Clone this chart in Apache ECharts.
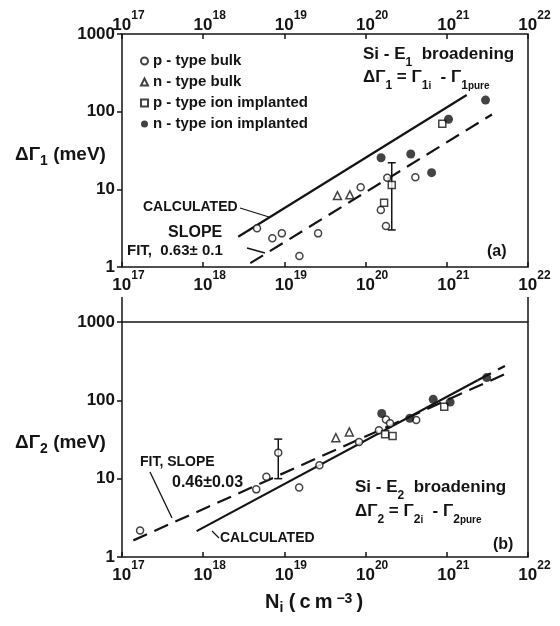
<!DOCTYPE html>
<html>
<head>
<meta charset="utf-8">
<script src="https://cdn.jsdelivr.net/npm/echarts@6/dist/echarts.min.js"></script>
<style>
  html, body { margin: 0; padding: 0; background: #fff; }
  #chart { width: 560px; height: 626px; }
</style>
</head>
<body>
<div id="chart"></div>
<script>
// ---- axis ticks ----
const xTickExps = [17, 18, 19, 20, 21, 22];
const yTicks = [1, 10, 100, 1000];

// ---- panel (a): Si-E1 broadening ----
const e1PBulkN = [4.6e18, 7.1e18, 9.3e18, 1.53e19, 2.6e19, 8.7e19, 1.54e20, 1.85e20, 1.78e20, 4.1e20];
const e1PBulkG = [3.15, 2.34, 2.71, 1.39, 2.71, 10.6, 5.4, 14.1, 3.37, 14.3];
const e1NBulkN = [4.5e19, 6.4e19];
const e1NBulkG = [8.3, 8.5];
const e1PImplN = [1.69e20, 2.1e20, 8.8e20];
const e1PImplG = [6.7, 11.4, 70];
const e1NImplN = [1.55e20, 3.6e20, 6.5e20, 1.05e21, 3.0e21];
const e1NImplG = [25.5, 28.5, 16.4, 80, 141];
const e1ErrN = [2.1e20];
const e1ErrLo = [3.0];
const e1ErrHi = [22];
const e1CalcN = [2.7e18, 1.76e21];
const e1CalcG = [2.45, 164];
const e1FitN = [3.8e18, 3.6e21];
const e1FitG = [1.12, 92];

// ---- panel (b): Si-E2 broadening ----
const e2PBulkN = [1.67e17, 4.5e18, 6.0e18, 8.4e18, 1.52e19, 2.7e19, 8.3e19, 1.46e20, 1.78e20, 2.0e20, 4.2e20];
const e2PBulkG = [2.18, 7.3, 10.6, 21.5, 7.7, 14.8, 29.4, 41.5, 57, 51, 56];
const e2NBulkN = [4.3e19, 6.3e19];
const e2NBulkG = [33.4, 39.5];
const e2PImplN = [1.74e20, 2.15e20, 9.3e20];
const e2PImplG = [37, 35, 83];
const e2NImplN = [1.58e20, 3.5e20, 6.8e20, 1.1e21, 3.1e21];
const e2NImplG = [68, 59, 103, 95, 195];
const e2ErrN = [8.4e18];
const e2ErrLo = [10];
const e2ErrHi = [32];
const e2CalcN = [8.3e17, 2.4e21];
const e2CalcG = [2.14, 180];
const e2CalcExtN = [2.4e21, 5.2e21];
const e2CalcExtG = [180, 275];
const e2FitN = [1.38e17, 5.2e21];
const e2FitG = [1.63, 216];

const legendNames = ['p - type bulk', 'n - type bulk', 'p - type ion implanted', 'n - type ion implanted'];

const FONT = "'Liberation Sans', Arial, sans-serif";
const WEIGHT = 'bold';
const INK = '#141414';
const DASH = [15, 8];

const zip = (a, b) => a.map((v, i) => [v, b[i]]);
const zip3 = (a, b, c) => a.map((v, i) => [v, b[i], c[i]]);

const xLabel = {
  fontFamily: FONT, color: INK,
  formatter: v => {
    const e = Math.round(Math.log10(v));
    return xTickExps.includes(e) ? '{p| }{b|10}{s|' + e + '}' : '';
  },
  rich: {
    p: { width: 13, lineHeight: 24 },
    b: { fontSize: 17, fontWeight: WEIGHT, lineHeight: 20, verticalAlign: 'bottom', fontFamily: FONT, color: INK },
    s: { fontSize: 12, fontWeight: WEIGHT, lineHeight: 14, verticalAlign: 'top', fontFamily: FONT, color: INK }
  }
};

function xAxis(gridIndex, position, margin) {
  return {
    type: 'log', logBase: 10, gridIndex, position,
    min: Math.pow(10, xTickExps[0]), max: Math.pow(10, xTickExps[xTickExps.length - 1]),
    splitNumber: 5,
    axisLine: { show: false },
    axisTick: { show: true, inside: true, length: 5, lineStyle: { color: INK, width: 1.5 } },
    splitLine: { show: false },
    minorTick: { show: false },
    axisLabel: Object.assign({ margin }, xLabel)
  };
}

function yAxis(gridIndex) {
  return {
    type: 'log', logBase: 10, gridIndex,
    min: yTicks[0], max: yTicks[yTicks.length - 1],
    splitNumber: 3,
    axisLine: { show: false },
    axisTick: { show: true, inside: false, length: 5, lineStyle: { color: INK, width: 1.5 } },
    splitLine: { show: false },
    axisLabel: {
      margin: 7, fontFamily: FONT, fontSize: 17, fontWeight: WEIGHT, color: INK,
      formatter: v => {
        const t = yTicks.find(k => Math.abs(Math.log10(k) - Math.log10(v)) < 1e-6);
        return t === undefined ? '' : String(t);
      }
    }
  };
}

function scatter(name, xi, yi, n, g, kind) {
  const styles = {
    open: { symbol: 'circle', symbolSize: 7, itemStyle: { color: '#fff', borderColor: INK, borderWidth: 1.5 } },
    tri: { symbol: 'triangle', symbolSize: 8, itemStyle: { color: '#fff', borderColor: INK, borderWidth: 1.5 } },
    sq: { symbol: 'rect', symbolSize: 7, itemStyle: { color: '#fff', borderColor: INK, borderWidth: 1.5 } },
    full: { symbol: 'circle', symbolSize: 9, itemStyle: { color: INK, borderColor: INK, borderWidth: 0 } }
  };
  return Object.assign({
    type: 'scatter', name, xAxisIndex: xi, yAxisIndex: yi, z: 5,
    data: zip(n, g), silent: true
  }, styles[kind]);
}

function line(xi, yi, n, g, dashed) {
  return {
    type: 'line', xAxisIndex: xi, yAxisIndex: yi, data: zip(n, g), symbol: 'none', z: 3, silent: true,
    lineStyle: { color: INK, width: 2.2, type: dashed ? DASH : 'solid' }
  };
}

function errorBars(xi, yi, n, lo, hi) {
  return {
    type: 'custom', xAxisIndex: xi, yAxisIndex: yi, z: 4, silent: true,
    data: zip3(n, lo, hi),
    encode: { x: 0, y: [1, 2] },
    renderItem: (params, api) => {
      const x = api.value(0);
      const a = api.coord([x, api.value(1)]);
      const b = api.coord([x, api.value(2)]);
      const st = { stroke: INK, lineWidth: 1.5 };
      return {
        type: 'group', children: [
          { type: 'line', shape: { x1: a[0], y1: a[1], x2: b[0], y2: b[1] }, style: st },
          { type: 'line', shape: { x1: a[0] - 4, y1: a[1], x2: a[0] + 4, y2: a[1] }, style: st },
          { type: 'line', shape: { x1: b[0] - 4, y1: b[1], x2: b[0] + 4, y2: b[1] }, style: st }
        ]
      };
    }
  };
}

const chart = echarts.init(document.getElementById('chart'), null, { renderer: 'canvas' });

chart.setOption({
  animation: false,
  backgroundColor: '#fff',
  grid: [
    { left: 122, width: 406, top: 34, height: 233, show: true, borderColor: INK, borderWidth: 1.5, backgroundColor: 'transparent' },
    { left: 122, width: 406, top: 322, height: 235, show: true, borderColor: INK, borderWidth: 1.5, backgroundColor: 'transparent' }
  ],
  xAxis: [xAxis(0, 'bottom', 3), xAxis(0, 'top', 0), xAxis(1, 'bottom', 3)],
  yAxis: [yAxis(0), yAxis(1)],
  legend: {
    show: true, orient: 'vertical', left: 135, top: 46, itemGap: 1,
    itemWidth: 7, itemHeight: 7, selectedMode: false,
    data: legendNames,
    textStyle: { fontFamily: FONT, fontSize: 15, fontWeight: WEIGHT, color: INK, lineHeight: 20 }
  },
  series: [
    line(0, 0, e1CalcN, e1CalcG, false),
    line(0, 0, e1FitN, e1FitG, true),
    errorBars(0, 0, e1ErrN, e1ErrLo, e1ErrHi),
    scatter(legendNames[0], 0, 0, e1PBulkN, e1PBulkG, 'open'),
    scatter(legendNames[1], 0, 0, e1NBulkN, e1NBulkG, 'tri'),
    scatter(legendNames[2], 0, 0, e1PImplN, e1PImplG, 'sq'),
    scatter(legendNames[3], 0, 0, e1NImplN, e1NImplG, 'full'),

    line(2, 1, e2CalcN, e2CalcG, false),
    line(2, 1, e2CalcExtN, e2CalcExtG, true),
    line(2, 1, e2FitN, e2FitG, true),
    errorBars(2, 1, e2ErrN, e2ErrLo, e2ErrHi),
    scatter(legendNames[0], 2, 1, e2PBulkN, e2PBulkG, 'open'),
    scatter(legendNames[1], 2, 1, e2NBulkN, e2NBulkG, 'tri'),
    scatter(legendNames[2], 2, 1, e2PImplN, e2PImplG, 'sq'),
    scatter(legendNames[3], 2, 1, e2NImplN, e2NImplG, 'full')
  ]
});

// ---- annotations ----
function richSet(size) {
  return {
    a: { fontFamily: FONT, fontSize: size, fontWeight: WEIGHT, color: INK, lineHeight: 20, verticalAlign: 'top' },
    sub: { fontFamily: FONT, fontSize: Math.round(size * 0.72), fontWeight: WEIGHT, color: INK, lineHeight: 16, verticalAlign: 'bottom' },
    ss: { fontFamily: FONT, fontSize: Math.round(size * 0.56), fontWeight: WEIGHT, color: INK, lineHeight: 11, verticalAlign: 'bottom' },
    sup: { fontFamily: FONT, fontSize: Math.round(size * 0.68), fontWeight: WEIGHT, color: INK, lineHeight: 14, verticalAlign: 'top' },
    h: { lineHeight: 23 }
  };
}

function txt(x, y, text, size, align) {
  return {
    type: 'text', x, y, silent: true, z: 20,
    style: { text, fontFamily: FONT, fontSize: size, fontWeight: WEIGHT, fill: INK, verticalAlign: 'middle', align: align || 'left', rich: richSet(size) }
  };
}
function seg(x1, y1, x2, y2, w) {
  return { type: 'line', silent: true, z: 20, shape: { x1, y1, x2, y2 }, style: { stroke: INK, lineWidth: w || 1.3 } };
}

const tl = chart.convertToPixel({ gridIndex: 1 }, [1e17, 1000]);
const tr = chart.convertToPixel({ gridIndex: 1 }, [1e22, 1000]);
const TS = '\u2009';

chart.setOption({
  graphic: [
    // bottom frame runs above the 1000 line
    seg(tl[0], tl[1], tl[0], tl[1] - 25, 1.5),
    seg(tr[0], tr[1], tr[0], tr[1] - 25, 1.5),

    // panel (a)
    txt(363, 57, '{h|}{a|Si - E}{sub|1}{a|  broadening}', 17),
    txt(363, 80, '{h|}{a|ΔΓ}{sub|1}{a| = Γ}{sub|1}{ss|i}{a|  - Γ}{sub|1}{ss|pure}', 17),
    txt(143, 207, 'CALCULATED', 14),
    seg(240, 208, 269, 217),
    txt(168, 233, 'SLOPE', 16),
    txt(127, 251, 'FIT,  0.63± 0.1', 15),
    seg(247, 248, 265, 253),
    txt(487, 252, '(a)', 16),
    txt(15, 157, '{h|}{a|ΔΓ}{sub|1}{a| (meV)}', 19),

    // panel (b)
    txt(140, 462, 'FIT, SLOPE', 14),
    txt(172, 483, '0.46±0.03', 16),
    seg(150, 472, 172, 518),
    txt(220, 538, 'CALCULATED', 14),
    seg(212, 531, 219, 538),
    txt(355, 490, '{h|}{a|Si - E}{sub|2}{a|  broadening}', 17),
    txt(355, 514, '{h|}{a|ΔΓ}{sub|2}{a| = Γ}{sub|2}{ss|i}{a|  - Γ}{sub|2}{ss|pure}', 17),
    txt(493, 545, '(b)', 16),
    txt(15, 445, '{h|}{a|ΔΓ}{sub|2}{a| (meV)}', 19),

    // x-axis title
    txt(314, 604, '{h|}{a|N}{sub|i}{a| (' + TS + 'c' + TS + 'm' + TS + '}{sup|−3}{a|' + TS + ')}', 20, 'center')
  ]
});
</script>
</body>
</html>
